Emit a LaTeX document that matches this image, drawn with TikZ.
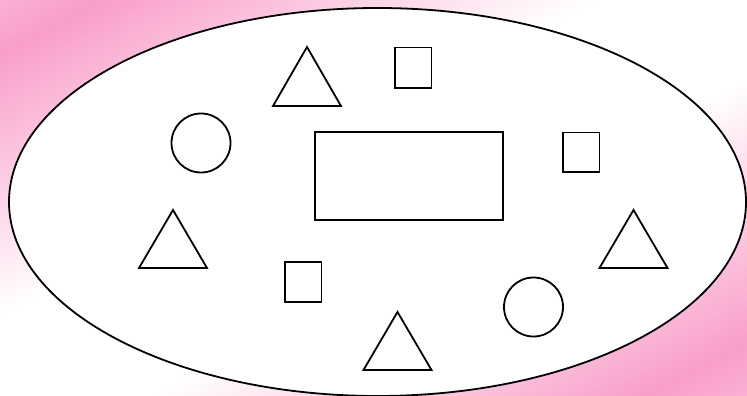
\documentclass[tikz,border=0pt]{standalone}
\usepackage{xcolor}
\usepackage{tikz}
\usetikzlibrary{calc}

\definecolor{pinkpeak}{RGB}{249,158,202}
\definecolor{pinkedge}{RGB}{251,176,213}
\pgfdeclarehorizontalshading{pinkband}{100bp}{color(0bp)=(pinkedge); color(25bp)=(pinkedge);
  color(28.4bp)=(pinkpeak); color(45bp)=(white); color(55bp)=(white); color(71.6bp)=(pinkpeak);
  color(75bp)=(pinkedge); color(100bp)=(pinkedge)}

\begin{document}
\begin{tikzpicture}[x=1pt,y=-1pt,line width=1.8pt,
    figline/.style={draw=black,fill=white,line join=miter}]
    \useasboundingbox (0,0) rectangle (747,396);
    \begin{scope}
      \clip (0,0) rectangle (747,396);
      \shade[shading=pinkband,transform canvas={rotate around={-62:(373.5,198)}}]
        (23.5,-400) rectangle (723.5,800);
    \end{scope}
    \draw[figline] (377.5,202) ellipse [x radius=368.5,y radius=194];
    % triangles
    \draw[figline] (307,47) -- (341,106) -- (273,106) -- cycle;
    \draw[figline] (173,210) -- (207,268) -- (139,268) -- cycle;
    \draw[figline] (633.5,210) -- (667.5,268) -- (599.5,268) -- cycle;
    \draw[figline] (397.5,312) -- (431.5,370) -- (363.5,370) -- cycle;
    % squares
    \draw[figline] (395,47.5) rectangle (431.5,88);
    \draw[figline] (563,132.5) rectangle (599.5,172);
    \draw[figline] (285,262) rectangle (321.5,302);
    % centre box
    \draw[figline] (315,132) rectangle (503,220);
    % circles
    \draw[figline] (201,143) circle [radius=29.5];
    \draw[figline] (533.5,307) circle [radius=29.5];
\end{tikzpicture}
\end{document}
